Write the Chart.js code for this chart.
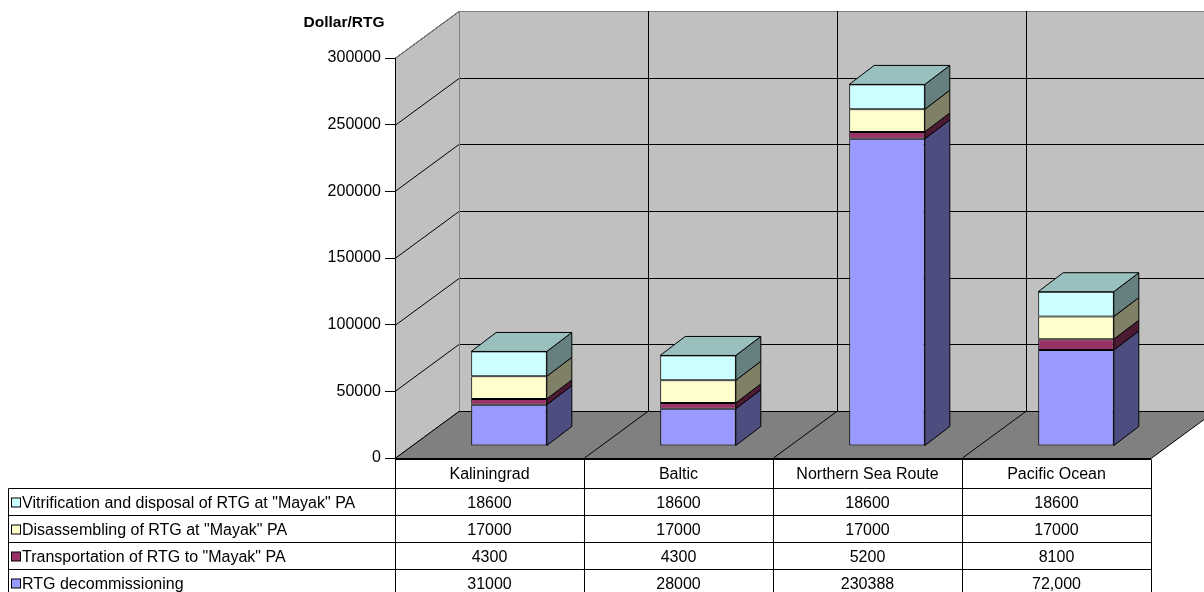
<!DOCTYPE html>
<html>
<head>
<meta charset="utf-8">
<script src="https://cdn.jsdelivr.net/npm/chart.js@4"></script>
<style>
  html, body { margin: 0; padding: 0; background: #fff; }
  #wrap { position: relative; width: 1204px; height: 592px; }
</style>
</head>
<body>
<div id="wrap"><canvas id="chart"></canvas></div>
<script>
// Chart data
const categories = ['Kaliningrad', 'Baltic', 'Northern Sea Route', 'Pacific Ocean'];
const decommissioning = [31000, 28000, 230388, 72000];
const transportation = [4300, 4300, 5200, 8100];
const disassembling = [17000, 17000, 17000, 17000];
const vitrification = [18600, 18600, 18600, 18600];
// table text as printed (one cell uses a thousands separator)
const decommissioningText = ['31000', '28000', '230388', '72,000'];
const yMin = 0;
const yMax = 300000;
const yStep = 50000;
const yTitle = 'Dollar/RTG';

const FONT = '"Liberation Sans", Arial, sans-serif';

// 3D look
const WALL_DX = 64, WALL_DY = -47;     // depth of walls / floor
const BAR_SHIFT_X = 19.5, BAR_SHIFT_Y = -12;  // bars sit mid-depth
const BAR_DX = 25, BAR_DY = -19;       // depth of a bar

const series = [
    { label: 'RTG decommissioning', data: decommissioning, color: '#9999FF', side: '#4D4D80', top: '#7373BF', text: decommissioningText },
    { label: 'Transportation of RTG to "Mayak" PA', data: transportation, color: '#993366', side: '#4D1A33', top: '#73264D' },
    { label: 'Disassembling of RTG at "Mayak" PA', data: disassembling, color: '#FFFFCC', side: '#808066', top: '#BFBF99' },
    { label: 'Vitrification and disposal of RTG at "Mayak" PA', data: vitrification, color: '#CCFFFF', side: '#668080', top: '#99BFBF' }
];

function line(ctx, x1, y1, x2, y2, color) {
    ctx.beginPath();
    ctx.moveTo(x1, y1);
    ctx.lineTo(x2, y2);
    ctx.strokeStyle = color;
    ctx.lineWidth = 1;
    ctx.stroke();
}

function poly(ctx, pts, fill, stroke) {
    ctx.beginPath();
    ctx.moveTo(pts[0][0], pts[0][1]);
    for (let i = 1; i < pts.length; i++) ctx.lineTo(pts[i][0], pts[i][1]);
    ctx.closePath();
    if (fill) { ctx.fillStyle = fill; ctx.fill(); }
    if (stroke) { ctx.strokeStyle = stroke; ctx.lineWidth = 1; ctx.stroke(); }
}

// walls, floor and wall gridlines
const wallsPlugin = {
    id: 'walls',
    beforeDraw(chart) {
        const ctx = chart.ctx;
        const a = chart.chartArea;
        const y = chart.scales.y;
        const L = a.left, B = a.bottom, T = a.top, R = a.right;
        ctx.save();
        // side wall
        poly(ctx, [[L, T], [L + WALL_DX, T + WALL_DY], [L + WALL_DX, B + WALL_DY], [L, B]], '#C0C0C0');
        // back wall
        poly(ctx, [[L + WALL_DX, T + WALL_DY], [R + WALL_DX + 60, T + WALL_DY], [R + WALL_DX + 60, B + WALL_DY], [L + WALL_DX, B + WALL_DY]], '#C0C0C0');
        // gridlines
        for (let v = yMin; v <= yMax; v += yStep) {
            const py = Math.round(y.getPixelForValue(v)) + 0.5;
            line(ctx, L, py, L + WALL_DX, py + WALL_DY, '#000');
            if (v !== yMax) line(ctx, L + WALL_DX, py + WALL_DY, R + WALL_DX + 60, py + WALL_DY, '#000');
        }
        // wall edges
        line(ctx, L, T + 0.5, L + WALL_DX, T + WALL_DY + 0.5, '#808080');
        line(ctx, L + WALL_DX, T + WALL_DY + 0.5, R + WALL_DX + 60, T + WALL_DY + 0.5, '#808080');
        line(ctx, L + WALL_DX + 0.5, T + WALL_DY, L + WALL_DX + 0.5, B + WALL_DY, '#808080');
        // vertical gridlines on back wall
        const step = (R - L) / categories.length;
        for (let i = 1; i < categories.length; i++) {
            const bx = Math.round(L + i * step) + 0.5;
            line(ctx, bx + WALL_DX, T + WALL_DY, bx + WALL_DX, B + WALL_DY, '#000');
        }
        // floor
        poly(ctx, [[L, B + 0.5], [R, B + 0.5], [R + WALL_DX, B + WALL_DY + 0.5], [L + WALL_DX, B + WALL_DY + 0.5]], '#808080', '#000');
        for (let i = 1; i < categories.length; i++) {
            const bx = Math.round(L + i * step) + 0.5;
            line(ctx, bx, B, bx + WALL_DX, B + WALL_DY, '#000');
        }
        ctx.restore();
    }
};

// shift bars back and draw their side / top faces
const bars3dPlugin = {
    id: 'bars3d',
    beforeDatasetsDraw(chart) {
        chart.ctx.save();
        chart.ctx.translate(BAR_SHIFT_X, BAR_SHIFT_Y);
    },
    afterDatasetsDraw(chart) {
        const ctx = chart.ctx;
        const n = chart.data.datasets.length;
        chart.data.datasets.forEach((ds, di) => {
            const meta = chart.getDatasetMeta(di);
            meta.data.forEach(el => {
                const p = el.getProps(['x', 'y', 'base', 'width'], true);
                const xl = p.x - p.width / 2;
                const xr = p.x + p.width / 2;
                poly(ctx, [[xr, p.y], [xr + BAR_DX, p.y + BAR_DY], [xr + BAR_DX, p.base + BAR_DY], [xr, p.base]], series[di].side, '#000');
                if (di === n - 1) {
                    poly(ctx, [[xl, p.y], [xr, p.y], [xr + BAR_DX, p.y + BAR_DY], [xl + BAR_DX, p.y + BAR_DY]], series[di].top, '#000');
                }
            });
        });
        ctx.restore();
    }
};

// data table under the chart plus the axis title
const tablePlugin = {
    id: 'dataTable',
    afterDraw(chart) {
        const ctx = chart.ctx;
        const a = chart.chartArea;
        const x = chart.scales.x;
        const step = (a.right - a.left) / categories.length;
        const legendLeft = 8.5;
        const headTop = a.bottom + 1.5;
        const rows = [488.5, 515.5, 542.5, 569.5, 596.5];
        ctx.save();

        // axis title
        ctx.fillStyle = '#000';
        ctx.font = 'bold 15.5px ' + FONT;
        ctx.textAlign = 'center';
        ctx.textBaseline = 'middle';
        ctx.fillText(yTitle, 344, 23);

        // grid lines of the table
        line(ctx, a.left, headTop, a.right, headTop, '#000');
        rows.slice(0, 4).forEach(ry => line(ctx, legendLeft, ry, a.right, ry, '#000'));
        line(ctx, legendLeft, rows[0], legendLeft, chart.height, '#000');
        for (let i = 0; i <= categories.length; i++) {
            const bx = Math.round(a.left + i * step) + 0.5;
            line(ctx, bx, headTop, bx, chart.height, '#000');
        }

        ctx.font = '16px ' + FONT;
        ctx.fillStyle = '#000';
        // header
        categories.forEach((c, i) => {
            ctx.fillText(c, x.getPixelForValue(i), (headTop + rows[0]) / 2 + 1);
        });
        // rows: top row is the last series
        const ordered = series.slice().reverse();
        ordered.forEach((s, r) => {
            const cy = (rows[r] + rows[r + 1]) / 2 + 1.5;
            ctx.fillStyle = s.color;
            ctx.fillRect(11.5, cy - 5.5, 9, 9);
            ctx.strokeStyle = '#000';
            ctx.lineWidth = 1;
            ctx.strokeRect(11.5, cy - 5.5, 9, 9);
            ctx.fillStyle = '#000';
            ctx.textAlign = 'left';
            ctx.fillText(s.label, 22, cy);
            ctx.textAlign = 'center';
            s.data.forEach((v, i) => {
                const txt = s.text ? s.text[i] : String(v);
                ctx.fillText(txt, x.getPixelForValue(i), cy);
            });
        });
        ctx.restore();
    }
};

const ctx = document.getElementById('chart').getContext('2d');
new Chart(ctx, {
    type: 'bar',
    data: {
        labels: categories,
        datasets: series.map(s => ({
            label: s.label,
            data: s.data,
            backgroundColor: s.color,
            borderColor: '#000',
            borderWidth: 1,
            borderSkipped: false,
            categoryPercentage: 1,
            barPercentage: 0.4,
            clip: false
        }))
    },
    options: {
        responsive: true,
        maintainAspectRatio: false,
        animation: false,
        devicePixelRatio: 1,
        layout: {
            padding: { left: 0, top: 58, right: 53, bottom: 134 }
        },
        plugins: {
            legend: { display: false },
            title: { display: false },
            tooltip: { enabled: false }
        },
        scales: {
            x: {
                stacked: true,
                grid: { display: false },
                border: { display: false },
                ticks: { display: false },
                afterFit(scale) { scale.height = 0; }
            },
            y: {
                stacked: true,
                min: yMin,
                max: yMax,
                afterFit(scale) { scale.width = 395; },
                grid: {
                    drawOnChartArea: false,
                    drawTicks: true,
                    tickLength: 10,
                    color: '#000'
                },
                border: { display: true, color: '#000' },
                ticks: {
                    stepSize: yStep,
                    padding: 4,
                    color: '#000',
                    font: { family: FONT, size: 16 },
                    callback: v => String(v)
                }
            }
        }
    },
    plugins: [wallsPlugin, bars3dPlugin, tablePlugin]
});
</script>
</body>
</html>
